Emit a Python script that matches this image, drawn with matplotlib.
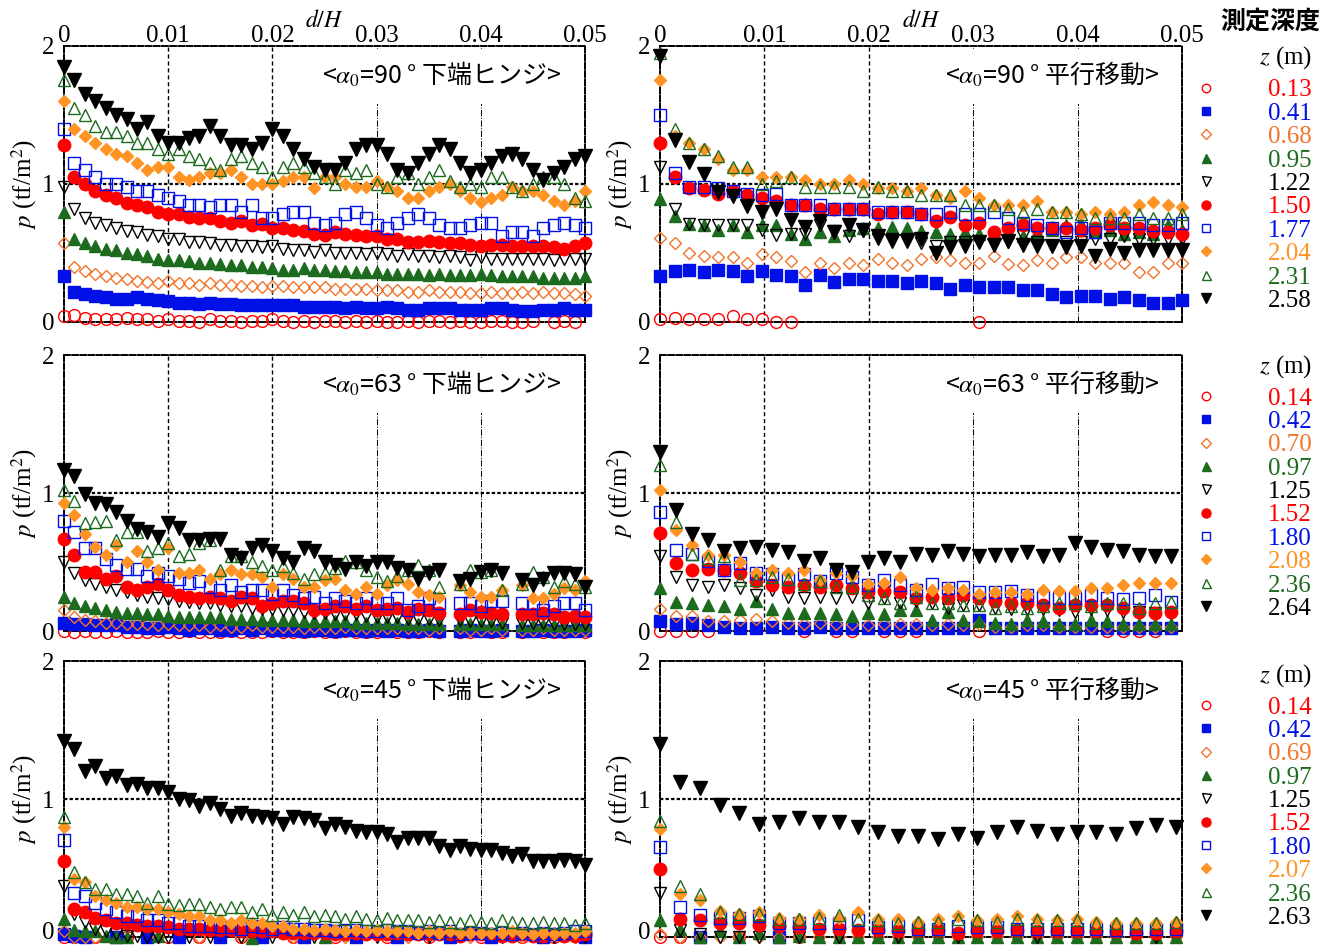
import numpy as np
import matplotlib
matplotlib.use("Agg")
import matplotlib.pyplot as plt
from matplotlib.lines import Line2D
from matplotlib.patches import Rectangle
from matplotlib.transforms import ScaledTranslation

nan = np.nan

plt.rcParams['font.family'] = ['Liberation Serif', 'Noto Sans CJK JP', 'DejaVu Sans']
plt.rcParams['mathtext.fontset'] = 'stix'

# d/H sampling step of each panel
step_h = 0.001        # 下端ヒンジ panels
step_t90 = 0.05 / 36  # 平行移動 90
step_t63 = 0.00153    # 平行移動 63
step_t45 = 0.0019     # 平行移動 45

# legend depths z (m)
depths_90 = ['0.13', '0.41', '0.68', '0.95', '1.22', '1.50', '1.77', '2.04', '2.31', '2.58']
depths_63 = ['0.14', '0.42', '0.70', '0.97', '1.25', '1.52', '1.80', '2.08', '2.36', '2.64']
depths_45 = ['0.14', '0.42', '0.69', '0.97', '1.25', '1.52', '1.80', '2.07', '2.36', '2.63']

# ---- α0=90° 下端ヒンジ ----
h90_013 = [0.04, 0.05, 0.03, 0.02, 0.02, 0.02, 0.03, 0.02, 0.02, 0.01, 0.02, 0.01, 0.01, 0.0, 0.02, 0.01, 0.01, 0.0,
           0.01, 0.01, 0.02, 0.01, 0.0, 0.01, 0.0, 0.01, 0.01, 0.0, 0.01, 0.0, 0.01, 0.0, 0.0, 0.01, 0.0, 0.01, 0.01,
           0.0, 0.01, 0.0, 0.0, 0.01, 0.01, 0.0, 0.0, 0.01, nan, 0.0, 0.01, 0.0, nan]
h90_041 = [0.33, 0.22, 0.2, 0.19, 0.18, 0.17, 0.17, 0.18, 0.17, 0.16, 0.15, 0.14, 0.14, 0.13, 0.14, 0.13, 0.13, 0.12,
           0.12, 0.12, 0.12, 0.12, 0.12, 0.11, 0.11, 0.11, 0.11, 0.1, 0.11, 0.1, 0.1, 0.11, 0.1, 0.09, 0.09, 0.1, 0.1,
           0.1, 0.09, 0.09, 0.09, 0.1, 0.1, 0.09, 0.08, 0.08, 0.09, 0.09, 0.1, 0.09, 0.09]
h90_068 = [0.57, 0.4, 0.37, 0.35, 0.33, 0.32, 0.31, 0.3, 0.29, 0.28, 0.3, 0.28, 0.28, 0.27, 0.28, 0.27, 0.27, 0.26,
           0.26, 0.25, 0.26, 0.26, 0.25, 0.25, 0.25, 0.25, 0.24, 0.24, 0.24, 0.24, 0.23, 0.23, 0.23, 0.22, 0.22, 0.23,
           0.22, 0.22, 0.22, 0.21, 0.21, 0.22, 0.21, 0.21, 0.22, 0.21, 0.22, 0.21, 0.21, 0.2, 0.19]
h90_095 = [0.8, 0.6, 0.57, 0.55, 0.53, 0.52, 0.5, 0.49, 0.48, 0.46, 0.45, 0.45, 0.44, 0.43, 0.43, 0.42, 0.41, 0.41,
           0.4, 0.4, 0.39, 0.38, 0.38, 0.39, 0.38, 0.38, 0.37, 0.37, 0.36, 0.36, 0.36, 0.35, 0.35, 0.35, 0.35, 0.34,
           0.35, 0.34, 0.34, 0.34, 0.35, 0.34, 0.33, 0.33, 0.33, 0.33, 0.32, 0.32, 0.32, 0.32, 0.33]
h90_122 = [0.98, 0.82, 0.75, 0.72, 0.7, 0.68, 0.66, 0.65, 0.63, 0.62, 0.6, 0.6, 0.58, 0.58, 0.57, 0.56, 0.56, 0.55,
           0.55, 0.54, 0.55, 0.53, 0.52, 0.52, 0.51, 0.52, 0.5, 0.5, 0.5, 0.49, 0.5, 0.49, 0.48, 0.49, 0.48, 0.48,
           0.47, 0.48, 0.47, 0.45, 0.47, 0.46, 0.46, 0.46, 0.46, 0.46, 0.46, 0.45, 0.46, 0.46, 0.46]
h90_150 = [1.28, 1.05, 1.0, 0.95, 0.92, 0.9, 0.86, 0.85, 0.83, 0.8, 0.78, 0.78, 0.76, 0.75, 0.75, 0.73, 0.72, 0.73,
           0.7, 0.71, 0.68, 0.68, 0.67, 0.66, 0.64, 0.63, 0.65, 0.64, 0.63, 0.62, 0.62, 0.6, 0.6, 0.58, 0.58, 0.59,
           0.58, 0.57, 0.57, 0.56, 0.55, 0.56, 0.56, 0.55, 0.55, 0.55, 0.55, 0.54, 0.53, 0.55, 0.57]
h90_177 = [1.4, 1.15, 1.1, 1.05, 1.0, 1.0, 0.98, 0.95, 0.95, 0.92, 0.9, 0.88, 0.85, 0.85, 0.83, 0.85, 0.85, 0.8,
           0.85, 0.75, 0.75, 0.78, 0.8, 0.8, 0.72, 0.7, 0.72, 0.78, 0.8, 0.75, 0.7, 0.68, 0.72, 0.75, 0.78, 0.75, 0.7,
           0.68, 0.68, 0.7, 0.72, 0.72, 0.62, 0.65, 0.65, 0.62, 0.68, 0.7, 0.72, 0.7, 0.68]
h90_204 = [1.6, 1.4, 1.35, 1.3, 1.25, 1.22, 1.2, 1.15, 1.1, 1.12, 1.12, 1.05, 1.03, 1.05, 1.08, 1.08, 1.1, 1.05, 1.0,
           1.0, 1.0, 1.02, 1.05, 1.05, 0.97, 1.05, 1.05, 1.0, 0.98, 0.98, 1.02, 0.98, 0.95, 0.9, 0.9, 0.95, 0.98, 1.0,
           0.95, 0.9, 0.87, 0.9, 0.92, 0.98, 0.95, 0.95, 0.92, 0.88, 0.85, 0.88, 0.95]
h90_231 = [1.75, 1.55, 1.5, 1.42, 1.38, 1.38, 1.35, 1.3, 1.3, 1.25, 1.22, 1.25, 1.2, 1.18, 1.15, 1.1, 1.18, 1.2,
           1.15, 1.12, 1.05, 1.12, 1.15, 1.12, 1.08, 1.05, 1.0, 1.1, 1.08, 1.1, 1.0, 0.98, 1.05, 1.08, 1.0, 1.05, 1.1,
           1.02, 0.98, 1.0, 0.98, 1.05, 1.05, 0.98, 0.95, 1.0, 1.05, 1.05, 1.0, 0.9, 0.88]
h90_258 = [1.85, 1.75, 1.65, 1.6, 1.55, 1.5, 1.47, 1.4, 1.45, 1.35, 1.3, 1.3, 1.33, 1.35, 1.42, 1.35, 1.28, 1.28,
           1.25, 1.3, 1.4, 1.35, 1.25, 1.18, 1.12, 1.1, 1.1, 1.15, 1.25, 1.28, 1.28, 1.22, 1.1, 1.08, 1.15, 1.22, 1.28,
           1.25, 1.15, 1.08, 1.1, 1.15, 1.2, 1.22, 1.18, 1.1, 1.03, 1.08, 1.12, 1.18, 1.2]

# ---- α0=90° 平行移動 ----
t90_013 = [0.02, 0.03, 0.02, 0.02, 0.02, 0.04, 0.02, 0.02, 0.0, 0.0] + [nan] * 12 + [0.0] + [nan] * 14
t90_041 = [0.33, 0.37, 0.38, 0.36, 0.38, 0.37, 0.33, 0.37, 0.34, 0.33, 0.27, 0.34, 0.29, 0.31, 0.31, 0.3, 0.3, 0.28,
           0.3, 0.28, 0.24, 0.27, 0.25, 0.25, 0.25, 0.23, 0.23, 0.2, 0.18, 0.19, 0.19, 0.17, 0.18, 0.16, 0.14, 0.14,
           0.16]
t90_068 = [0.61, 0.57, 0.5, 0.48, 0.47, 0.47, 0.43, 0.49, 0.47, 0.44, 0.36, 0.43, 0.39, 0.43, 0.41, 0.46, 0.43, 0.41,
           0.46, 0.47, 0.45, 0.43, 0.43, 0.48, 0.42, 0.41, 0.45, 0.43, 0.47, 0.47, 0.43, 0.43, 0.43, 0.36, 0.36, 0.43,
           0.43]
t90_095 = [0.89, 0.77, 0.71, 0.7, 0.67, 0.7, 0.65, 0.7, 0.7, 0.64, 0.6, 0.65, 0.62, 0.67, 0.68, 0.68, 0.69, 0.68,
           0.66, 0.65, 0.64, 0.65, 0.64, 0.65, 0.65, 0.62, 0.65, 0.67, 0.7, 0.71, 0.65, 0.67, 0.64, 0.65, 0.64, 0.7,
           0.67]
t90_122 = [1.12, 0.82, 0.71, 0.7, 0.7, 0.7, 0.7, 0.67, 0.63, 0.64, 0.64, 0.7, 0.66, 0.62, 0.66, 0.6, 0.6, 0.6, 0.57,
           0.55, 0.58, 0.58, 0.58, 0.6, 0.58, 0.62, 0.58, 0.55, 0.58, 0.58, 0.6, 0.6, 0.62, 0.6, 0.6, 0.6, 0.6]
t90_150 = [1.3, 1.05, 0.97, 0.96, 0.93, 0.95, 0.92, 0.9, 0.88, 0.85, 0.85, 0.82, 0.82, 0.82, 0.82, 0.78, 0.8, 0.8,
           0.78, 0.73, 0.76, 0.7, 0.72, 0.65, 0.68, 0.7, 0.68, 0.68, 0.68, 0.67, 0.68, 0.7, 0.68, 0.68, 0.66, 0.65,
           0.64]
t90_177 = [1.5, 1.08, 0.98, 0.98, 0.97, 0.95, 0.93, 0.92, 0.93, 0.85, 0.85, 0.85, 0.82, 0.82, 0.82, 0.8, 0.8, 0.8,
           0.78, 0.78, 0.8, 0.78, 0.78, 0.8, 0.75, 0.72, 0.7, 0.68, 0.65, 0.68, 0.65, 0.72, 0.72, 0.72, 0.7, 0.7, 0.72]
t90_204 = [1.75, 1.35, 1.3, 1.25, 1.18, 1.1, 1.1, 1.05, 1.05, 1.05, 1.03, 1.0, 1.0, 1.03, 1.0, 0.97, 0.97, 0.95, 0.97,
           0.92, 0.9, 0.95, 0.9, 0.85, 0.85, 0.85, 0.88, 0.8, 0.8, 0.78, 0.8, 0.78, 0.8, 0.85, 0.87, 0.85, 0.83]
t90_231 = [1.95, 1.4, 1.3, 1.25, 1.2, 1.12, 1.12, 1.0, 1.02, 1.05, 0.98, 0.98, 0.98, 0.98, 0.95, 0.98, 0.95, 0.95,
           0.92, 0.92, 0.92, 0.85, 0.85, 0.85, 0.82, 0.8, 0.82, 0.8, 0.8, 0.78, 0.75, 0.75, 0.75, 0.78, 0.75, 0.75,
           0.78]
t90_258 = [1.93, 1.32, 1.16, 1.07, 0.94, 0.91, 0.84, 0.8, 0.82, 0.74, 0.69, 0.73, 0.65, 0.7, 0.67, 0.62, 0.59, 0.59,
           0.6, 0.5, 0.54, 0.55, 0.58, 0.56, 0.59, 0.56, 0.55, 0.55, 0.54, 0.55, 0.48, 0.53, 0.5, 0.52, 0.52, 0.52,
           0.52]

# ---- α0=63° 下端ヒンジ ----
h63_014 = [0.0, -0.01, 0.0, -0.01, -0.01, 0.0, -0.01, -0.01, -0.01, 0.0, -0.01, -0.01, 0.0, -0.01, -0.01, -0.01,
           0.0, -0.01, -0.01, -0.01, 0.0, -0.01, -0.01, -0.01, 0.0, -0.01, -0.01, 0.0, -0.01, -0.01, -0.01, 0.0,
           -0.01, -0.01, -0.01, 0.0, -0.01, nan, -0.01, -0.01, 0.0, -0.01, -0.01, nan, -0.01, 0.0, -0.01, -0.01,
           -0.01, 0.0, -0.01]
h63_042 = [0.06, 0.05, 0.05, 0.04, 0.04, 0.04, 0.03, 0.03, 0.02, 0.02, 0.03, 0.02, 0.01, 0.02, 0.02, 0.01, 0.01, 0.02,
           0.01, 0.02, 0.01, 0.01, 0.01, 0.0, 0.01, 0.01, 0.0, 0.01, 0.01, 0.0, 0.01, 0.0, 0.01, 0.0, 0.0, 0.01, 0.0,
           nan, 0.0, 0.01, 0.0, 0.0, 0.01, nan, 0.0, 0.0, 0.01, 0.0, 0.0, 0.0, 0.01]
h63_070 = [0.15, 0.1, 0.08, 0.07, 0.06, 0.06, 0.05, 0.05, 0.05, 0.04, 0.05, 0.04, 0.04, 0.04, 0.03, 0.04, 0.03, 0.03,
           0.04, 0.03, 0.03, 0.03, 0.03, 0.02, 0.03, 0.02, 0.02, 0.03, 0.02, 0.02, 0.02, 0.02, 0.02, 0.02, 0.02, 0.01,
           0.02, nan, 0.02, 0.01, 0.01, 0.02, 0.01, nan, 0.01, 0.01, 0.02, 0.01, 0.01, 0.01, 0.01]
h63_097 = [0.25, 0.2, 0.18, 0.17, 0.15, 0.14, 0.13, 0.13, 0.12, 0.12, 0.11, 0.1, 0.1, 0.1, 0.1, 0.1, 0.09, 0.09, 0.09,
           0.08, 0.08, 0.08, 0.08, 0.07, 0.07, 0.07, 0.07, 0.07, 0.06, 0.06, 0.06, 0.06, 0.06, 0.05, 0.05, 0.05, 0.05,
           nan, 0.05, 0.05, 0.05, 0.05, 0.05, nan, 0.04, 0.04, 0.04, 0.04, 0.04, 0.04, 0.04]
h63_125 = [0.5, 0.42, 0.37, 0.34, 0.32, 0.3, 0.28, 0.26, 0.25, 0.24, 0.23, 0.22, 0.21, 0.2, 0.2, 0.19, 0.18, 0.18,
           0.17, 0.16, 0.16, 0.15, 0.15, 0.14, 0.13, 0.13, 0.12, 0.12, 0.12, 0.11, 0.1, 0.1, 0.1, 0.09, 0.09, 0.09,
           0.08, nan, 0.08, 0.07, 0.07, 0.07, 0.06, nan, 0.06, 0.06, 0.06, 0.05, 0.05, 0.05, 0.05]
h63_152 = [0.67, 0.55, 0.43, 0.43, 0.38, 0.4, 0.32, 0.3, 0.32, 0.34, 0.3, 0.26, 0.25, 0.24, 0.25, 0.24, 0.22, 0.25,
           0.24, 0.18, 0.2, 0.22, 0.22, 0.2, 0.15, 0.16, 0.18, 0.18, 0.16, 0.18, 0.15, 0.16, 0.17, 0.14, 0.16, 0.15,
           0.13, nan, 0.12, 0.15, 0.14, 0.13, 0.12, nan, 0.12, 0.12, 0.13, 0.12, 0.1, 0.11, 0.1]
h63_180 = [0.8, 0.72, 0.6, 0.6, 0.52, 0.48, 0.45, 0.45, 0.4, 0.42, 0.4, 0.38, 0.35, 0.36, 0.32, 0.3, 0.33, 0.28, 0.3,
           0.3, 0.27, 0.3, 0.26, 0.24, 0.25, 0.2, 0.24, 0.22, 0.2, 0.24, 0.2, 0.2, 0.24, 0.15, 0.18, 0.24, 0.2, nan,
           0.2, 0.2, 0.18, 0.22, 0.22, nan, 0.2, 0.2, 0.15, 0.18, 0.2, 0.2, 0.15]
h63_208 = [0.93, 0.84, 0.7, 0.61, 0.55, 0.62, 0.5, 0.58, 0.5, 0.44, 0.6, 0.42, 0.42, 0.44, 0.38, 0.41, 0.44, 0.41,
           0.41, 0.39, 0.32, 0.41, 0.38, 0.32, 0.32, 0.37, 0.38, 0.3, 0.27, 0.32, 0.27, 0.33, 0.37, 0.34, 0.28, 0.26,
           0.25, nan, 0.33, 0.28, 0.25, 0.25, 0.3, nan, 0.33, 0.24, 0.24, 0.27, 0.31, 0.3, 0.36]
h63_236 = [1.02, 0.94, 0.78, 0.79, 0.8, 0.66, 0.72, 0.72, 0.58, 0.6, 0.64, 0.54, 0.56, 0.64, 0.66, 0.44, 0.54, 0.54,
           0.5, 0.47, 0.44, 0.47, 0.42, 0.38, 0.41, 0.42, 0.46, 0.51, 0.5, 0.44, 0.39, 0.36, 0.4, 0.44, 0.48, 0.44,
           0.32, nan, 0.34, 0.44, 0.43, 0.44, 0.3, nan, 0.34, 0.43, 0.39, 0.32, 0.36, 0.34, 0.32]
h63_264 = [1.17, 1.12, 0.99, 0.93, 0.92, 0.86, 0.8, 0.74, 0.72, 0.68, 0.78, 0.75, 0.66, 0.66, 0.67, 0.67, 0.55, 0.53,
           0.6, 0.62, 0.58, 0.53, 0.5, 0.6, 0.58, 0.5, 0.48, 0.45, 0.5, 0.47, 0.5, 0.5, 0.46, 0.44, 0.38, 0.42, 0.44,
           nan, 0.36, 0.38, 0.43, 0.44, 0.42, nan, 0.37, 0.33, 0.38, 0.42, 0.42, 0.41, 0.32]

# ---- α0=63° 平行移動 ----
t63_014 = [0.0, 0.0, 0.0, 0.0, nan, nan, nan, nan, nan, 0.0, nan, 0.0, 0.0, nan, 0.0, 0.0, 0.0, nan, nan, nan, 0.0,
           nan, nan, nan, nan, nan, nan, nan, 0.0, 0.0, 0.0, 0.0, nan]
t63_042 = [0.07, 0.05, 0.06, 0.04, 0.03, 0.02, 0.02, 0.03, 0.02, 0.02, 0.03, 0.02, 0.02, 0.02, 0.02, 0.02, 0.02, 0.02,
           0.02, 0.02, 0.08, 0.02, 0.02, 0.02, 0.02, 0.02, 0.02, 0.02, 0.02, 0.02, 0.02, 0.02, 0.02]
t63_070 = [0.16, 0.11, 0.11, 0.07, 0.07, 0.08, 0.09, 0.07, 0.06, 0.05, 0.06, 0.05, 0.05, 0.04, 0.05, 0.05, 0.05, 0.04,
           0.05, 0.04, 0.05, 0.03, 0.03, 0.04, 0.04, 0.03, 0.03, 0.03, 0.03, 0.03, 0.03, 0.03, 0.03]
t63_097 = [0.31, 0.21, 0.2, 0.19, 0.18, 0.16, 0.22, 0.16, 0.13, 0.13, 0.13, 0.12, 0.11, 0.13, 0.12, 0.15, 0.15, 0.08,
           0.14, 0.08, 0.07, 0.06, 0.05, 0.08, 0.07, 0.05, 0.05, 0.08, 0.07, 0.05, 0.05, 0.05, 0.05]
t63_125 = [0.54, 0.39, 0.33, 0.32, 0.33, 0.31, 0.26, 0.3, 0.25, 0.24, 0.25, 0.24, 0.25, 0.2, 0.24, 0.2, 0.22, 0.2,
           0.17, 0.19, 0.19, 0.17, 0.16, 0.16, 0.16, 0.15, 0.14, 0.16, 0.15, 0.14, 0.14, 0.13, 0.13]
t63_152 = [0.71, 0.49, 0.44, 0.45, 0.44, 0.42, 0.36, 0.33, 0.32, 0.33, 0.32, 0.33, 0.31, 0.28, 0.29, 0.28, 0.24, 0.25,
           0.24, 0.26, 0.24, 0.22, 0.2, 0.2, 0.19, 0.17, 0.19, 0.19, 0.19, 0.17, 0.14, 0.13, 0.14]
t63_180 = [0.86, 0.59, 0.56, 0.51, 0.44, 0.49, 0.42, 0.41, 0.38, 0.41, 0.36, 0.42, 0.39, 0.33, 0.37, 0.33, 0.3, 0.34,
           0.31, 0.32, 0.28, 0.28, 0.29, 0.26, 0.25, 0.24, 0.24, 0.26, 0.24, 0.23, 0.24, 0.26, 0.21]
t63_208 = [1.02, 0.73, 0.62, 0.55, 0.55, 0.5, 0.42, 0.44, 0.42, 0.44, 0.37, 0.42, 0.4, 0.34, 0.35, 0.39, 0.31, 0.3,
           0.31, 0.3, 0.27, 0.28, 0.28, 0.27, 0.3, 0.29, 0.29, 0.31, 0.31, 0.33, 0.35, 0.35, 0.35]
t63_236 = [1.2, 0.79, 0.56, 0.53, 0.54, 0.37, 0.37, 0.39, 0.38, 0.34, 0.36, 0.32, 0.32, 0.26, 0.24, 0.2, 0.25, 0.2,
           0.2, 0.19, 0.19, 0.17, 0.18, 0.17, 0.18, 0.2, 0.2, 0.18, 0.2, 0.2, 0.17, 0.2, 0.21]
t63_264 = [1.3, 0.88, 0.7, 0.66, 0.58, 0.6, 0.61, 0.59, 0.57, 0.51, 0.53, 0.44, 0.43, 0.5, 0.53, 0.5, 0.56, 0.55,
           0.58, 0.56, 0.54, 0.55, 0.55, 0.57, 0.54, 0.55, 0.64, 0.61, 0.59, 0.58, 0.55, 0.54, 0.54]

# ---- α0=45° 下端ヒンジ ----
h45_014 = [0.0, 0.0, nan, 0.0, nan, nan, 0.0, nan, nan, nan, 0.0, nan, nan, 0.0, nan, nan, nan, 0.0, nan, nan, nan,
           nan, 0.0, nan, nan, nan, 0.0, nan, nan, nan, nan, 0.0, nan, nan, nan, 0.0, nan, nan, nan, nan, 0.0, nan,
           nan, nan, 0.0, nan, nan, 0.0, nan, nan, 0.0]
h45_042 = [0.02, 0.01, 0.0, nan, nan, 0.0, nan, nan, 0.0, nan, nan, 0.0, nan, nan, nan, 0.0, nan, nan, nan, 0.0, nan,
           nan, nan, 0.0, nan, nan, nan, nan, 0.0, nan, nan, nan, 0.0, nan, nan, nan, nan, 0.0, nan, nan, nan, 0.0,
           nan, nan, nan, nan, 0.0, nan, nan, nan, 0.0]
h45_069 = [0.04, 0.0, 0.0, 0.0, nan, nan, nan, nan, nan, 0.0, nan, nan, nan, 0.0, nan, nan, nan, 0.0, nan, nan, nan,
           nan, 0.0, nan, nan, nan, nan, 0.0, nan, nan, nan, nan, nan, 0.0, nan, nan, nan, nan, nan, 0.0, nan, nan,
           nan, nan, 0.0, nan, nan, nan, nan, 0.0, nan]
h45_097 = [0.13, 0.05, 0.04, 0.04, 0.01, 0.0, 0.0, nan, nan, 0.01] + [nan] * 8 + [-0.01] + [nan] * 6 + [0.0] \
    + [nan] * 25
h45_125 = [0.37, 0.17, 0.11, 0.06, 0.04, 0.02, 0.01, 0.01, 0.0, 0.0, 0.0, nan, 0.0, nan, 0.0, nan, nan, 0.0, nan, nan,
           0.0, nan, nan, nan, 0.0, nan, nan, nan, nan, nan, 0.0, nan, nan, nan, nan, 0.0, nan, nan, nan, nan, nan,
           nan, 0.0, nan, nan, nan, nan, 0.0, nan, nan, 0.0]
h45_152 = [0.55, 0.2, 0.18, 0.14, 0.12, 0.1, 0.1, 0.09, 0.08, 0.08, 0.07, 0.06, 0.06, 0.06, 0.05, 0.05, 0.05, 0.04,
           0.04, 0.04, 0.04, 0.03, 0.03, 0.03, 0.03, 0.03, 0.02, 0.02, 0.03, 0.02, 0.02, 0.02, 0.03, 0.02, 0.02, 0.02,
           0.02, 0.02, 0.01, 0.02, 0.02, 0.02, 0.01, 0.01, 0.02, 0.01, 0.01, 0.02, 0.01, 0.01, 0.02]
h45_180 = [0.7, 0.32, 0.3, 0.25, 0.2, 0.18, 0.15, 0.15, 0.12, 0.12, 0.1, 0.1, 0.08, 0.08, 0.08, 0.07, 0.07, 0.06,
           0.08, 0.07, 0.06, 0.07, 0.06, 0.06, 0.05, 0.05, 0.04, 0.05, 0.05, 0.04, 0.04, 0.05, 0.04, 0.04, 0.03, 0.04,
           0.03, 0.04, 0.02, 0.03, 0.03, 0.02, 0.03, 0.02, 0.03, 0.02, 0.03, 0.02, 0.03, 0.04, 0.04]
h45_207 = [0.8, 0.42, 0.4, 0.3, 0.27, 0.25, 0.22, 0.22, 0.2, 0.2, 0.18, 0.17, 0.15, 0.15, 0.12, 0.12, 0.1, 0.12, 0.1,
           0.1, 0.08, 0.08, 0.06, 0.06, 0.05, 0.06, 0.05, 0.04, 0.05, 0.04, 0.05, 0.04, 0.04, 0.04, 0.03, 0.04, 0.03,
           0.04, 0.03, 0.03, 0.03, 0.03, 0.03, 0.04, 0.03, 0.02, 0.03, 0.02, 0.03, 0.03, 0.04]
h45_236 = [0.87, 0.47, 0.4, 0.35, 0.35, 0.31, 0.31, 0.3, 0.25, 0.3, 0.24, 0.23, 0.24, 0.24, 0.22, 0.2, 0.22, 0.22,
           0.18, 0.2, 0.16, 0.18, 0.16, 0.18, 0.15, 0.16, 0.15, 0.13, 0.15, 0.13, 0.12, 0.14, 0.12, 0.12, 0.12, 0.11,
           0.12, 0.11, 0.1, 0.12, 0.11, 0.1, 0.12, 0.11, 0.1, 0.1, 0.11, 0.1, 0.1, 0.09, 0.1]
h45_263 = [1.42, 1.36, 1.2, 1.24, 1.15, 1.17, 1.1, 1.11, 1.08, 1.08, 1.05, 1.0, 0.99, 0.95, 0.97, 0.93, 0.88, 0.9,
           0.88, 0.87, 0.86, 0.82, 0.87, 0.86, 0.85, 0.79, 0.82, 0.8, 0.77, 0.76, 0.76, 0.75, 0.69, 0.72, 0.72, 0.72,
           0.66, 0.63, 0.66, 0.64, 0.63, 0.63, 0.61, 0.59, 0.6, 0.55, 0.55, 0.55, 0.56, 0.55, 0.52]

# ---- α0=45° 平行移動 ----
t45_014 = [0.0, 0.0, nan, nan, 0.0, nan, nan, 0.0] + [nan] * 19
t45_042 = [nan, nan, 0.0, nan, nan, nan, 0.0] + [nan] * 20
t45_069 = [0.02, 0.0, 0.0, 0.0, 0.0, 0.0, 0.0, 0.0, 0.0, 0.0, 0.0, 0.0, 0.0, 0.0, 0.0, 0.0, 0.0, 0.0, 0.0, 0.0, 0.0,
           0.0, 0.0, 0.0, 0.0, 0.0, 0.0]
t45_097 = [0.12, 0.06, 0.0, 0.04, 0.0, 0.03, 0.0, 0.01, 0.0, 0.0, 0.0, 0.0, 0.0, 0.0, 0.0, 0.0, 0.0, 0.0, 0.0, 0.0,
           0.0, 0.0, 0.0, 0.0, 0.0, 0.0, 0.0]
t45_125 = [0.32, 0.05, 0.02, 0.0, 0.0, 0.0, nan, 0.0, nan, 0.0, nan, nan, 0.0, nan, nan, 0.0, nan, nan, nan, 0.0, nan,
           nan, nan, nan, nan, 0.0, nan]
t45_152 = [0.49, 0.13, 0.12, 0.1, 0.1, 0.09, 0.08, 0.07, 0.06, 0.06, 0.05, 0.05, 0.04, 0.05, 0.05, 0.03, 0.04, 0.04,
           0.05, 0.04, 0.04, 0.04, 0.04, 0.04, 0.03, 0.03, 0.04]
t45_180 = [0.65, 0.22, 0.16, 0.14, 0.14, 0.15, 0.1, 0.1, 0.1, 0.1, 0.12, 0.07, 0.08, 0.06, 0.06, 0.08, 0.07, 0.07,
           0.06, 0.06, 0.06, 0.06, 0.06, 0.05, 0.06, 0.06, 0.06]
t45_207 = [0.78, 0.31, 0.27, 0.19, 0.17, 0.18, 0.14, 0.13, 0.16, 0.14, 0.18, 0.13, 0.13, 0.11, 0.13, 0.15, 0.12, 0.13,
           0.15, 0.13, 0.12, 0.13, 0.11, 0.1, 0.1, 0.1, 0.11]
t45_236 = [0.84, 0.37, 0.31, 0.18, 0.17, 0.17, 0.13, 0.13, 0.14, 0.16, 0.13, 0.12, 0.1, 0.11, 0.11, 0.13, 0.12, 0.11,
           0.13, 0.12, 0.12, 0.12, 0.1, 0.1, 0.1, 0.1, 0.11]
t45_263 = [1.4, 1.12, 1.08, 0.96, 0.9, 0.82, 0.83, 0.86, 0.83, 0.83, 0.8, 0.76, 0.73, 0.73, 0.71, 0.75, 0.72, 0.76,
           0.8, 0.77, 0.75, 0.76, 0.76, 0.75, 0.79, 0.81, 0.8]

# marker styles, in legend order
RED = '#FF0000'
BLUE = '#0010E6'
ORANGE = '#FF9424'
ORANGE2 = '#F2742A'
GREEN = '#1C6B1E'
styles = [
    ('o', RED, False, 8.5),
    ('s', BLUE, True, 8.5),
    ('D', ORANGE2, False, 6.5),
    ('^', GREEN, True, 9),
    ('v', 'black', False, 9),
    ('o', RED, True, 9),
    ('s', BLUE, False, 8.5),
    ('D', ORANGE, True, 6.5),
    ('^', GREEN, False, 9),
    ('v', 'black', True, 9.5),
]
label_colors = [RED, BLUE, ORANGE2, GREEN, 'black', RED, BLUE, ORANGE, GREEN, 'black']

panels = [
    (0, 0, '90', '下端ヒンジ', step_h,
     [h90_013, h90_041, h90_068, h90_095, h90_122, h90_150, h90_177, h90_204, h90_231, h90_258]),
    (0, 1, '90', '平行移動', step_t90,
     [t90_013, t90_041, t90_068, t90_095, t90_122, t90_150, t90_177, t90_204, t90_231, t90_258]),
    (1, 0, '63', '下端ヒンジ', step_h,
     [h63_014, h63_042, h63_070, h63_097, h63_125, h63_152, h63_180, h63_208, h63_236, h63_264]),
    (1, 1, '63', '平行移動', step_t63,
     [t63_014, t63_042, t63_070, t63_097, t63_125, t63_152, t63_180, t63_208, t63_236, t63_264]),
    (2, 0, '45', '下端ヒンジ', step_h,
     [h45_014, h45_042, h45_069, h45_097, h45_125, h45_152, h45_180, h45_207, h45_236, h45_263]),
    (2, 1, '45', '平行移動', step_t45,
     [t45_014, t45_042, t45_069, t45_097, t45_125, t45_152, t45_180, t45_207, t45_236, t45_263]),
]
row_depths = [depths_90, depths_63, depths_45]

W, H = 1329, 947
fig = plt.figure(figsize=(W / 100, H / 100), dpi=100)

col_left = [64, 660]
col_width = [521, 522]
row_top = [46, 355, 661]
ax_h = 276
# pixel rows of the "z (m)" title and of the first legend entry
legend_title_y = [58, 367, 676]
legend_first_y = [88, 396, 705]

cjk = ['Noto Sans CJK JP', 'DejaVu Sans']
num_font = 18

for row, col, angle, mode, step, series in panels:
    ax = fig.add_axes([col_left[col] / W, 1 - (row_top[row] + ax_h) / H, col_width[col] / W, ax_h / H])
    ax.set_xlim(0, 0.05)
    ax.set_ylim(0, 2)

    # grid lines
    for gx in (0.01, 0.02):
        ax.axvline(gx, color='black', lw=1.0, ls=(0, (3, 2)), zorder=1)
    for gx in (0.03, 0.04):
        ax.axvline(gx, color='black', lw=0.7, ls='-.', zorder=1)
    ax.axhline(1, color='black', lw=1.6, ls=(0, (1.5, 1)), zorder=1)
    ax.add_patch(Rectangle((0.45, 0.79), 0.54, 0.2, transform=ax.transAxes,
                           facecolor='white', edgecolor='none', zorder=1.5))

    for y, (mk, c, filled, ms) in zip(series, styles):
        x = np.arange(len(y)) * step
        ax.plot(x, y, ls='none', marker=mk, ms=ms, mec=c, mfc=c if filled else 'none',
                mew=1.0, clip_on=False, zorder=3)

    for s in ax.spines.values():
        s.set_linewidth(1.4)
        s.set_linestyle((0, (3, 1.2)))
        s.set_zorder(2)

    ax.set_yticks([0, 1, 2])
    ax.set_yticklabels(['0', '1', '2'])
    ax.set_xticks([0, 0.01, 0.02, 0.03, 0.04, 0.05])
    ax.tick_params(length=0, labelsize=num_font)
    ax.tick_params(axis='y', pad=7)
    if row == 0:
        ax.xaxis.tick_top()
        ax.set_xticklabels(['0', '0.01', '0.02', '0.03', '0.04', '0.05'])
        ax.tick_params(axis='x', pad=-1)
        ax.text(0.5, 1.09, r'$d/H$', transform=ax.transAxes, ha='center', va='center', fontsize=17)
    else:
        ax.set_xticklabels([])
    if row == 2:
        # keep the bottom "0" inside the picture
        lab0 = ax.get_yticklabels()[0]
        lab0.set_transform(lab0.get_transform() + ScaledTranslation(0, 5 / 72, fig.dpi_scale_trans))

    ax.set_ylabel(r'$p$ (tf/m$^2$)', fontsize=num_font, labelpad=2)

    ax.text(0.955 if col == 0 else 0.958, 0.895, r'<$\alpha_{\mathit{0}}$=' + angle + ' ° ' + mode + '>',
            transform=ax.transAxes, ha='right', va='center', fontsize=18, family=cjk, zorder=4)

    if col == 1:
        handles = [Line2D([], [], ls='none', marker=mk, ms=ms * 0.72, mec=c,
                          mfc=c if filled else 'none', mew=1.0) for mk, c, filled, ms in styles]
        leg = ax.legend(handles, row_depths[row], loc='upper right',
                        bbox_to_anchor=(1312 / W, 1 - (legend_first_y[row] - 9) / H),
                        bbox_transform=fig.transFigure, frameon=False, handlelength=1.0,
                        handletextpad=2.0, labelspacing=0.035, borderpad=0, borderaxespad=0,
                        prop={'family': 'Liberation Serif', 'size': num_font})
        for t, c in zip(leg.get_texts(), label_colors):
            t.set_color(c)
        fig.text(1312 / W, 1 - legend_title_y[row] / H, r'$z$ (m)', ha='right', va='center', fontsize=num_font)

fig.text(1270 / W, 1 - 22 / H, '測定深度', ha='center', va='center', fontsize=18, family=cjk, weight='bold')

fig.savefig('out.png', dpi=100)
